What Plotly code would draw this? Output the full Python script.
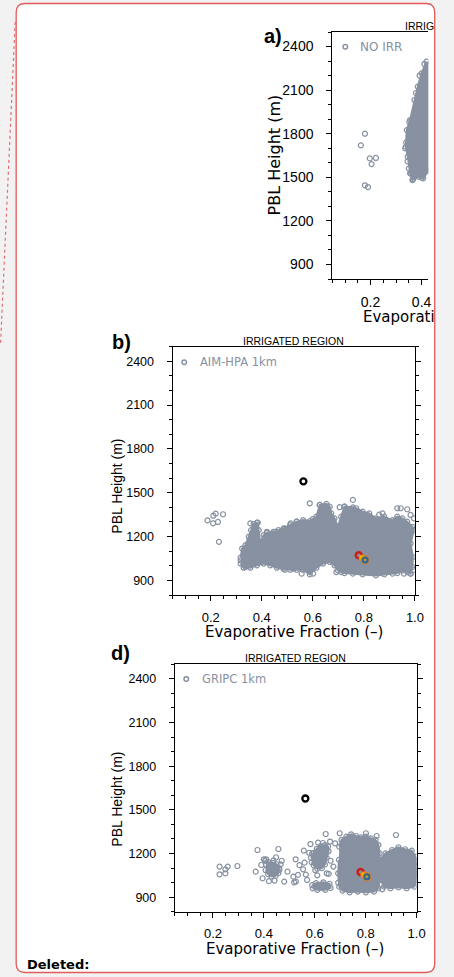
import plotly.graph_objects as go

# ---------------- data ----------------
# Panel a) NO IRR  (sparse points + outline of the dense cloud)
a_pts_x = [0.178, 0.162, 0.197, 0.221, 0.204, 0.178, 0.190, 0.366, 0.401, 0.340, 0.345, 0.350, 0.358, 0.378, 0.392, 0.411, 0.336, 0.352]
a_pts_y = [1800, 1720, 1630, 1633, 1591, 1445, 1433, 1485, 1497, 1740, 1610, 1560, 1525, 2080, 2200, 2280, 1700, 1880]
a_cloud_x = [0.419, 0.400, 0.385, 0.372, 0.355, 0.342, 0.338, 0.346, 0.355, 0.364, 0.387, 0.406, 0.426, 0.440, 0.440]
a_cloud_y = [2296, 2215, 2124, 2032, 1894, 1825, 1711, 1642, 1527, 1481, 1504, 1493, 1545, 1545, 2296]

# Panel b) AIM-HPA 1km
b_cloud_x = [0.317, 0.323, 0.336, 0.349, 0.358, 0.368, 0.384, 0.388, 0.394, 0.407, 0.420, 0.446, 0.465, 0.485,
             0.511, 0.537, 0.562, 0.588, 0.614, 0.627, 0.653, 0.666, 0.672, 0.685, 0.698, 0.711, 0.724, 0.757,
             0.770, 0.795, 0.821, 0.847, 0.880, 0.912, 0.931, 0.951, 0.970, 0.990, 0.996, 0.983, 0.992, 0.990,
             0.983, 0.970, 0.951, 0.931, 0.912, 0.880, 0.847, 0.795, 0.757, 0.724, 0.711, 0.698, 0.685, 0.666,
             0.640, 0.614, 0.588, 0.562, 0.537, 0.511, 0.485, 0.459, 0.433, 0.407, 0.381, 0.355, 0.329, 0.317]
b_cloud_y = [1056, 1118, 1141, 1199, 1244, 1286, 1295, 1244, 1153, 1210, 1226, 1233, 1244, 1256,
             1279, 1302, 1313, 1306, 1336, 1417, 1424, 1405, 1359, 1325, 1267, 1336, 1405, 1400,
             1394, 1371, 1359, 1325, 1336, 1313, 1336, 1325, 1302, 1267, 1244, 1153, 1060, 992,
             946, 957, 969, 950, 946, 941, 934, 941, 946, 950, 957, 969, 1003, 1026,
             1015, 987, 941, 973, 973, 973, 980, 987, 1003, 1015, 1003, 987, 987, 1015]
b_pts_x = [0.187, 0.209, 0.210, 0.219, 0.228, 0.248, 0.232, 0.757, 0.588, 0.627, 0.653, 0.705, 0.724, 0.873,
           0.931, 0.944, 0.970, 0.983, 0.996, 0.420, 0.452, 0.491, 0.513, 0.536, 0.355, 0.381, 0.317, 0.336,
           0.491, 0.524, 0.556, 0.601, 0.692, 0.957, 0.983, 0.996, 0.372, 0.600, 0.640, 0.860]
b_pts_y = [1311, 1291, 1343, 1357, 1300, 1353, 1164, 1451, 1428, 1417, 1405, 1401, 1405, 1359,
           1394, 1394, 1387, 1348, 1325, 1233, 1233, 1256, 1290, 1302, 1290, 1295, 1038, 992,
           973, 980, 946, 946, 957, 946, 946, 973, 1270, 1320, 1395, 1350]

# Panel d) GRIPC 1km
d_main_x = [0.696, 0.705, 0.724, 0.743, 0.762, 0.782, 0.801, 0.820, 0.839, 0.850, 0.855, 0.852, 0.855, 0.850,
            0.833, 0.801, 0.769, 0.737, 0.709, 0.696, 0.692, 0.695]
d_main_y = [1247, 1293, 1316, 1332, 1320, 1311, 1316, 1304, 1293, 1259, 1201, 1110, 1018, 961,
            938, 933, 938, 933, 945, 972, 1064, 1156]
d_right_x = [0.855, 0.878, 0.904, 0.929, 0.955, 0.981, 0.996, 1.004, 1.000, 0.991, 0.961, 0.929, 0.897, 0.872,
             0.860, 0.857]
d_right_y = [1156, 1201, 1224, 1243, 1229, 1220, 1178, 1110, 1018, 972, 961, 968, 961, 972,
             1018, 1087]
d_mid_x = [0.585, 0.595, 0.608, 0.624, 0.640, 0.652, 0.654, 0.647, 0.640, 0.628, 0.610, 0.596, 0.588]
d_mid_y = [1170, 1205, 1232, 1250, 1258, 1248, 1215, 1170, 1125, 1100, 1095, 1118, 1140]
d_low_x = [0.590, 0.605, 0.634, 0.658, 0.662, 0.641, 0.610, 0.592]
d_low_y = [982, 996, 1002, 992, 963, 950, 950, 960]
d_left_x = [0.408, 0.418, 0.436, 0.450, 0.460, 0.457, 0.446, 0.430, 0.417, 0.407]
d_left_y = [1125, 1140, 1136, 1126, 1100, 1066, 1046, 1042, 1058, 1085]
d_pts_x = [0.226, 0.226, 0.249, 0.249, 0.258, 0.296, 0.375, 0.368, 0.390, 0.400, 0.409, 0.457, 0.448, 0.461,
           0.442, 0.480, 0.493, 0.516, 0.519, 0.525, 0.526, 0.534, 0.554, 0.560, 0.557, 0.570, 0.565, 0.583,
           0.590, 0.598, 0.643, 0.660, 0.680, 0.673, 0.647, 0.919, 0.801, 0.843, 0.698, 0.692, 0.865, 0.994,
           0.988, 0.420, 0.395, 0.470, 0.540, 0.610, 0.625, 0.655, 0.405, 0.438, 0.466, 0.613, 0.632, 0.662,
           0.578, 0.602]
d_pts_y = [1110, 1057, 1091, 1064, 1110, 1114, 1224, 1075, 1121, 1160, 1160, 1231, 1174, 1087,
           1014, 1007, 1075, 1041, 1002, 1160, 1007, 1053, 1091, 1137, 1220, 1018, 1055, 1265,
           1201, 1167, 1334, 1282, 1270, 1110, 1064, 1327, 1339, 1320, 1339, 1000, 954, 1064,
           995, 1010, 1030, 1150, 1120, 1050, 1240, 1060, 1150, 1152, 1125, 1275, 1272, 1150,
           1205, 1085]

# reference points (same in every panel)
obs_x = [0.563, 0.780, 0.793, 0.805]
obs_y = [1578, 1072, 1053, 1040]

legend_names = ["NO IRR", "AIM-HPA 1km", "GRIPC 1km"]
panel_labels = ["a)", "b)", "d)"]
region_title = "IRRIGATED REGION"
x_title = "Evaporative Fraction (\u2013)"
y_title = "PBL Height (m)"

# ---------------- layout helpers ----------------
W, H = 454, 977
def X(px): return px / W
def Y(py): return 1 - py / H

GRAY = "#8791a1"
RED_BORDER = "#e25b5b"
FONT = "DejaVu Sans"
TFONT = "Liberation Sans"

fig = go.Figure()

def cloud(xs, ys, xa, ya):
    fig.add_trace(go.Scatter(x=xs, y=ys, xaxis=xa, yaxis=ya, mode="lines+markers", fill="toself",
                             fillcolor=GRAY, line=dict(color=GRAY, width=2),
                             marker=dict(symbol="circle-open", size=5, color=GRAY, line=dict(width=1.2)),
                             hoverinfo="skip", showlegend=False))

def pts(xs, ys, xa, ya):
    fig.add_trace(go.Scatter(x=xs, y=ys, xaxis=xa, yaxis=ya, mode="markers",
                             marker=dict(symbol="circle-open", size=5, color=GRAY, line=dict(width=1.2)),
                             hoverinfo="skip", showlegend=False))

def obs(xa, ya):
    fig.add_trace(go.Scatter(x=obs_x[:1], y=obs_y[:1], xaxis=xa, yaxis=ya, mode="markers",
                             marker=dict(symbol="circle-open", size=6, color="black", line=dict(width=2.3)),
                             hoverinfo="skip", showlegend=False))
    fig.add_trace(go.Scatter(x=obs_x[1:2], y=obs_y[1:2], xaxis=xa, yaxis=ya, mode="markers",
                             marker=dict(symbol="circle-open", size=6, color="#c8201a", line=dict(width=2.5)),
                             hoverinfo="skip", showlegend=False))
    fig.add_trace(go.Scatter(x=obs_x[2:3], y=obs_y[2:3], xaxis=xa, yaxis=ya, mode="markers",
                             marker=dict(symbol="circle", size=6, color="#f3c000",
                                         line=dict(width=1, color="#e8901a")),
                             hoverinfo="skip", showlegend=False))
    fig.add_trace(go.Scatter(x=obs_x[3:4], y=obs_y[3:4], xaxis=xa, yaxis=ya, mode="markers",
                             marker=dict(symbol="circle-open", size=8, color="#e07b28", line=dict(width=1.3)),
                             hoverinfo="skip", showlegend=False))
    fig.add_trace(go.Scatter(x=obs_x[3:4], y=obs_y[3:4], xaxis=xa, yaxis=ya, mode="markers",
                             marker=dict(symbol="circle-open", size=5, color="#2e6a86", line=dict(width=2)),
                             hoverinfo="skip", showlegend=False))

# panel a
cloud(a_cloud_x, a_cloud_y, "x", "y")
pts(a_pts_x, a_pts_y, "x", "y")
# panel b
cloud(b_cloud_x, b_cloud_y, "x2", "y2")
pts(b_pts_x, b_pts_y, "x2", "y2")
obs("x2", "y2")
# panel d
for cx, cy in [(d_main_x, d_main_y), (d_right_x, d_right_y), (d_mid_x, d_mid_y), (d_low_x, d_low_y), (d_left_x, d_left_y)]:
    cloud(cx, cy, "x3", "y3")
pts(d_pts_x, d_pts_y, "x3", "y3")
obs("x3", "y3")
# dummy traces for the right-hand tick axes
fig.add_trace(go.Scatter(x=[None], y=[None], xaxis="x2", yaxis="y4", showlegend=False, hoverinfo="skip"))
fig.add_trace(go.Scatter(x=[None], y=[None], xaxis="x3", yaxis="y5", showlegend=False, hoverinfo="skip"))

def xcfg(dom, rng, anchor, fs):
    return dict(domain=dom, range=rng, anchor=anchor, showline=True, linecolor="black", linewidth=1,
                mirror=True, ticks="outside", ticklen=5, tickwidth=1, tickcolor="black",
                tick0=0.0, dtick=0.2, tickformat=".1f", showgrid=False, zeroline=False,
                minor=dict(tick0=0.0, dtick=0.05, ticks="outside", ticklen=3, tickwidth=1, tickcolor="black"),
                tickfont=dict(family=TFONT, size=fs, color="black"), ticklabelstandoff=5)

def ycfg(dom, anchor, fs, side="left", overlay=None, labels=True):
    d = dict(domain=dom, range=[800, 2500], anchor=anchor, side=side, showline=True, linecolor="black",
             linewidth=1, ticks="outside", ticklen=5, tickwidth=1, tickcolor="black",
             tick0=900, dtick=300, showgrid=False, zeroline=False, showticklabels=labels,
             minor=dict(tick0=800, dtick=100, ticks="outside", ticklen=3, tickwidth=1, tickcolor="black"),
             tickfont=dict(family=TFONT, size=fs, color="black"), ticklabelstandoff=10)
    if overlay:
        d["overlaying"] = overlay
    return d

# pixel frames
A = dict(l=339, r=437, t=32, b=279)
B = dict(l=176, r=423.3, t=346.7, b=595)
D = dict(l=178.3, r=425, t=664.3, b=911.7)
a_xmax = 0.05 + (A["r"] - A["l"]) / ((B["r"] - B["l"]) / 0.95)

fig.update_layout(
    width=W, height=H, margin=dict(l=0, r=0, t=0, b=0),
    paper_bgcolor="#f2f2f2", plot_bgcolor="white", showlegend=False,
    xaxis=xcfg([X(A["l"]), X(A["r"])], [0.05, a_xmax], "y", 14),
    yaxis=ycfg([Y(A["b"]), Y(A["t"])], "x", 14),
    xaxis2=xcfg([X(B["l"]), X(B["r"])], [0.05, 1.0], "y2", 13),
    yaxis2=ycfg([Y(B["b"]), Y(B["t"])], "x2", 12.5),
    xaxis3=xcfg([X(D["l"]), X(D["r"])], [0.05, 1.0], "y3", 13),
    yaxis3=ycfg([Y(D["b"]), Y(D["t"])], "x3", 12.5),
    yaxis4=ycfg([Y(B["b"]), Y(B["t"])], "x2", 12, side="right", overlay="y2", labels=False),
    yaxis5=ycfg([Y(D["b"]), Y(D["t"])], "x3", 12, side="right", overlay="y3", labels=False),
)

# ---------------- decorations: comment box ----------------
x0, x1, y0, y1, r = 16.5, 443.5, 3.5, 972.5, 9
path = (f"M {X(x0+r)},{Y(y0)} L {X(x1-r)},{Y(y0)} Q {X(x1)},{Y(y0)} {X(x1)},{Y(y0+r)} "
        f"L {X(x1)},{Y(y1-r)} Q {X(x1)},{Y(y1)} {X(x1-r)},{Y(y1)} "
        f"L {X(x0+r)},{Y(y1)} Q {X(x0)},{Y(y1)} {X(x0)},{Y(y1-r)} "
        f"L {X(x0)},{Y(y0+r)} Q {X(x0)},{Y(y0)} {X(x0+r)},{Y(y0)} Z")
shapes = [
    dict(type="path", xref="paper", yref="paper", path=path, fillcolor="white",
         line=dict(color=RED_BORDER, width=1.3), layer="below"),
    dict(type="line", xref="paper", yref="paper", x0=X(15.5), y0=Y(22), x1=X(0.5), y1=Y(345),
         line=dict(color="#e07070", width=1.2, dash="dot")),
]
# legend glyphs
for cx, cy in [(352.3, 46.7), (188, 362.3), (190, 679)]:
    shapes.append(dict(type="circle", xref="paper", yref="paper", x0=X(cx-2.3), x1=X(cx+2.3),
                       y0=Y(cy+2.3), y1=Y(cy-2.3), line=dict(color=GRAY, width=1.5)))
fig.update_layout(shapes=shapes)

anns = []
def ann(text, px, py, size, xanchor="center", yanchor="middle", angle=0, color="black", family=FONT):
    anns.append(dict(text=text, x=X(px), y=Y(py), xref="paper", yref="paper", showarrow=False,
                     xanchor=xanchor, yanchor=yanchor, textangle=angle,
                     font=dict(family=family, size=size, color=color)))

# panel labels
ann("<b>" + panel_labels[0] + "</b>", 267, 36, 20, xanchor="left", family="Liberation Sans")
ann("<b>" + panel_labels[1] + "</b>", 112, 342, 20, xanchor="left", family="Liberation Sans")
ann("<b>" + panel_labels[2] + "</b>", 111, 653, 20, xanchor="left", family="Liberation Sans")
# titles
ann(region_title[:5], 411, A["t"] + 2, 10.5, xanchor="left", yanchor="bottom", family="Liberation Sans")
ann(region_title, (B["l"] + B["r"]) / 2, B["t"] + 2, 10.5, yanchor="bottom", family="Liberation Sans")
ann(region_title, (D["l"] + D["r"]) / 2, D["t"] + 2, 10.5, yanchor="bottom", family="Liberation Sans")
# legends
ann(legend_names[0], 365.7, 46.7, 12, xanchor="left", color=GRAY)
ann(legend_names[1], 201.7, 362.3, 11.5, xanchor="left", color=GRAY)
ann(legend_names[2], 204.3, 679, 11.5, xanchor="left", color=GRAY)
# axis titles
ann(y_title, 280, 155, 16, angle=-90)
ann(y_title, 119, 486, 14, angle=-90, family=TFONT)
ann(y_title, 119, 799, 14, angle=-90, family=TFONT)
ann(x_title[:9], 368, 317, 15, xanchor="left")
ann(x_title, 300, 632, 15)
ann(x_title, 301, 949, 15)
# footer
ann("<b>Deleted:</b>", 25, 964, 13, xanchor="left", family="DejaVu Sans")
fig.update_layout(annotations=anns)

fig.write_html("out.html")
